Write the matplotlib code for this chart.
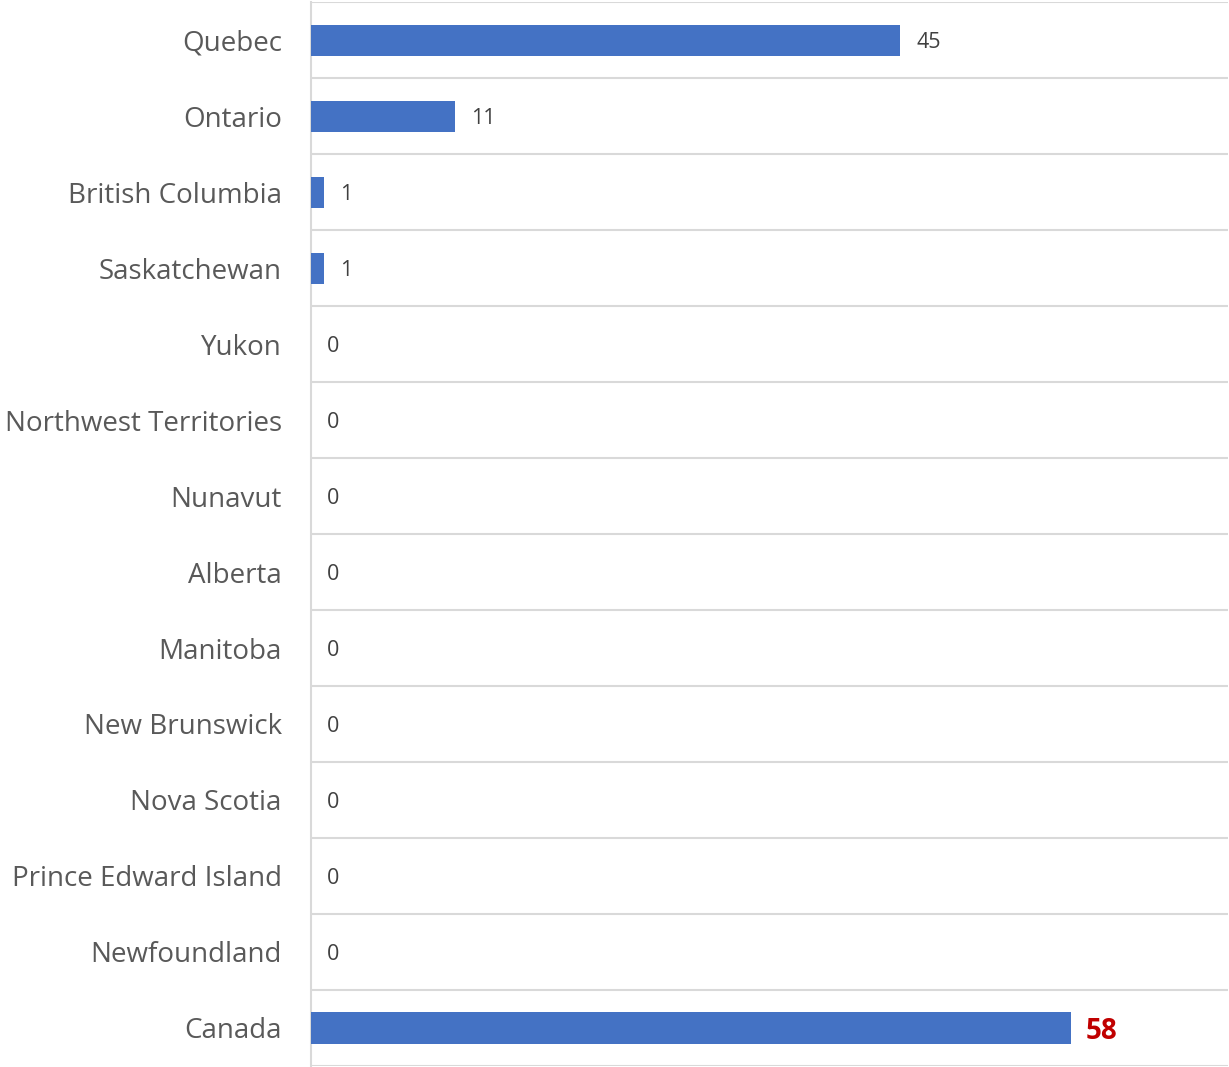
import matplotlib.pyplot as plt
import numpy as np

provinces = ["Quebec", "Ontario", "British Columbia", "Saskatchewan", "Yukon",
             "Northwest Territories", "Nunavut", "Alberta", "Manitoba",
             "New Brunswick", "Nova Scotia", "Prince Edward Island",
             "Newfoundland", "Canada"]
cases = [45, 11, 1, 1, 0, 0, 0, 0, 0, 0, 0, 0, 0, 58]

plt.rcParams['font.family'] = ['Open Sans', 'DejaVu Sans']

fig = plt.figure(figsize=(12.29, 10.67), dpi=100)
ax = fig.add_axes([0.253, 0.001, 0.746, 0.997])

y = np.arange(len(provinces))
ax.barh(y, cases, height=0.41, color="#4472C4", zorder=3)

ax.set_xlim(0, 70)
ax.set_ylim(len(provinces) - 0.5, -0.5)

# gridlines between categories
ax.set_yticks(y)
ax.set_yticklabels(provinces, fontsize=20, color="#595959")
ax.set_yticks(np.arange(-0.5, len(provinces)), minor=True)
ax.tick_params(axis='y', which='both', length=0, pad=21)
ax.grid(axis='y', which='minor', color="#D9D9D9", linewidth=1.5, zorder=0)
ax.set_xticks([])

for s in ['top', 'right', 'bottom']:
    ax.spines[s].set_visible(False)
ax.spines['left'].set_color("#D9D9D9")
ax.spines['left'].set_linewidth(1.5)

for i, v in enumerate(cases):
    if provinces[i] == "Canada":
        ax.text(v + 1.15, i, str(v), va='center_baseline', ha='left', fontsize=20,
                color="#C00000", fontweight='bold')
    else:
        ax.text(v + 1.25, i, str(v), va='center_baseline', ha='left', fontsize=15.5,
                color="#404040")

fig.savefig("out.png", dpi=100)
